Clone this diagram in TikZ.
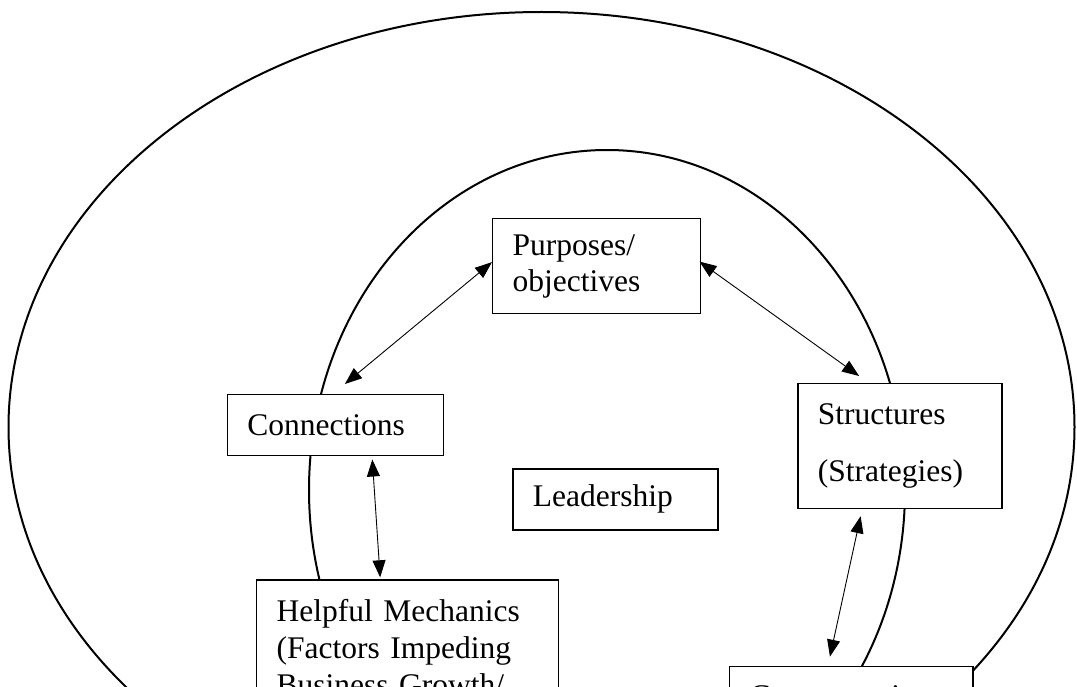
\documentclass[tikz,border=0pt]{standalone}
\usepackage{fontspec}
\setmainfont{Liberation Serif}
\usetikzlibrary{arrows.meta,calc}
\tikzset{
  ring/.style={draw=black, line width=2pt},
  box/.style={draw=black, line width=1.2pt, fill=white, anchor=north west,
    align=left, inner xsep=20pt, font=\fontsize{31.5}{34}\selectfont},
  link/.style={line width=0.9pt,
    {Triangle[length=17pt,width=13pt]}-{Triangle[length=17pt,width=13pt]}}
}
\begin{document}
\begin{tikzpicture}[x=1pt,y=-1pt]
\useasboundingbox (0,0) rectangle (1077,687);
\clip (0,0) rectangle (1077,687);
% rings
\draw[ring] (541.5,427) ellipse [x radius=533pt, y radius=415pt];
\draw[ring] (607,490) ellipse [x radius=298pt, y radius=340pt];
% boxes
\node[box, text width=168pt, minimum height=95pt, inner ysep=0pt,
  font=\fontsize{31.5}{36}\selectfont] (purp) at (492,218)
  {Purposes/\\objectives};
\node[box, text width=176pt, minimum height=61pt, inner ysep=0pt] (conn) at (226.7,394)
  {Connections};
\node[box, text width=165pt, minimum height=61pt, inner ysep=0pt] (lead) at (512.3,468.3)
  {Leadership};
\node[box, text width=164pt, minimum height=125pt, inner ysep=0pt,
  font=\fontsize{31.5}{57}\selectfont] (stru) at (797.3,382.7)
  {Structures\\(Strategies)};
\node[box, text width=261.7pt, inner ysep=19pt,
  font=\fontsize{31.5}{37}\selectfont] (help) at (256,579.3)
  {Helpful Mechanics\\(Factors Impeding\\Business Growth/};
\node[box, text width=203.3pt, inner ysep=19pt] (comp) at (729,665.7)
  {Compensation};
% connectors
\draw[link] ($(purp.west)+(0,-4)$) -- ($(conn.north)+(9.6,-10)$);
\draw[link] ($(purp.east)+(-1.7,-4.5)$) -- ($(stru.north)+(-40.8,-6.7)$);
\draw[link] ($(conn.south)+(37,3.3)$) -- ($(help.north)+(-27.3,-2)$);
\draw[link] ($(stru.south)+(-39.3,7.3)$) -- ($(comp.north)+(-21.3,-9)$);
\end{tikzpicture}
\end{document}
